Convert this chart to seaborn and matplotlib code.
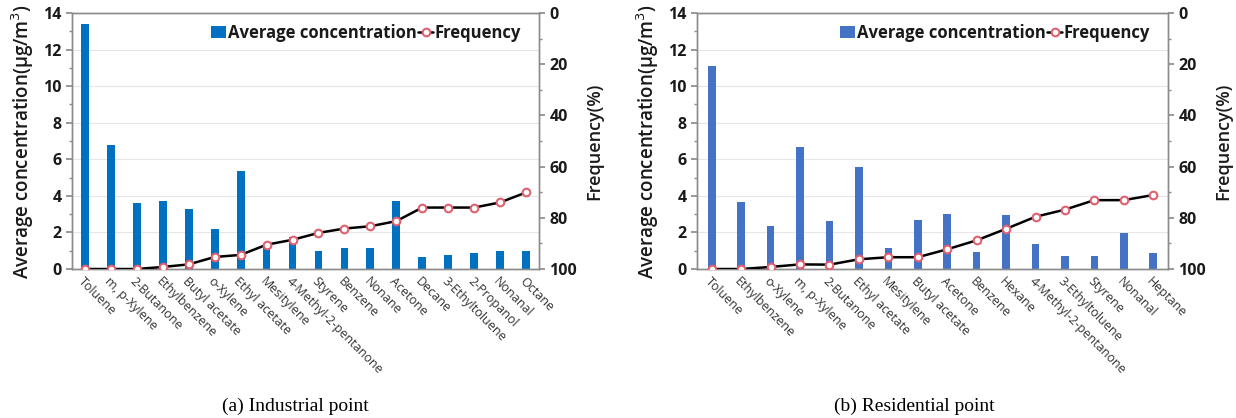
import numpy as np
import pandas as pd
import matplotlib
matplotlib.use("Agg")
import matplotlib.pyplot as plt
import seaborn as sns
from matplotlib.lines import Line2D
from matplotlib.patches import Patch
from matplotlib.ticker import MultipleLocator

# ---------------- data ----------------
ind_categories = ["Toluene", "m, p-Xylene", "2-Butanone", "Ethylbenzene", "Butyl acetate",
                  "o-Xylene", "Ethyl acetate", "Mesitylene", "4-Methyl-2-pentanone", "Styrene",
                  "Benzene", "Nonane", "Acetone", "Decane", "3-Ethyltoluene", "2-Propanol",
                  "Nonanal", "Octane"]
ind_concentration = [13.4, 6.8, 3.6, 3.7, 3.3, 2.2, 5.35, 1.3, 1.75, 1.0,
                     1.15, 1.15, 3.7, 0.65, 0.75, 0.85, 1.0, 1.0]
ind_frequency = [100, 100, 100, 99.2, 98.2, 95.3, 94.5, 90.5, 88.6, 85.9,
                 84.2, 83.3, 81.3, 76.0, 76.0, 76.0, 74.0, 70.1]

res_categories = ["Toluene", "Ethylbenzene", "o-Xylene", "m, p-Xylene", "2-Butanone",
                  "Ethyl acetate", "Mesitylene", "Butyl acetate", "Acetone", "Benzene",
                  "Hexane", "4-Methyl-2-pentanone", "3-Ethyltoluene", "Styrene", "Nonanal",
                  "Heptane"]
res_concentration = [11.1, 3.65, 2.35, 6.65, 2.65, 5.6, 1.15, 2.7, 3.0, 0.95,
                     2.95, 1.35, 0.7, 0.7, 1.95, 0.85]
res_frequency = [100, 100, 99.2, 98.2, 98.3, 96.2, 95.4, 95.4, 92.3, 88.8,
                 84.3, 79.6, 76.8, 73.1, 73.1, 71.1]

panels = [
    ("(a) Industrial point", ind_categories, ind_concentration, ind_frequency, "#0070C0", 0.3),
    ("(b) Residential point", res_categories, res_concentration, res_frequency, "#4472C4", 0.26),
]

# ---------------- style ----------------
sns.set_theme(style="white")
plt.rcParams['font.family'] = ['Open Sans', 'DejaVu Sans']

fig = plt.figure(figsize=(12.36, 4.18), dpi=100)
positions = [
    (72 / 1236, 1 - 269 / 418, (539 - 72) / 1236, (269 - 13) / 418),
    (697 / 1236, 1 - 269 / 418, (1168 - 697) / 1236, (269 - 13) / 418),
]
caption_x = [295 / 1236, 914 / 1236]

spine_col = "#8c8c8c"
grid_col = "#e6e6e6"
text_col = "#1a1a1a"
marker_edge = "#e06070"

for (caption, cats, conc, freq, bar_col, bw), pos, cx in zip(panels, positions, caption_x):
    ax = fig.add_axes(pos)
    df = pd.DataFrame({"Compound": cats, "Concentration": conc, "Frequency": freq})
    sns.barplot(data=df, x="Compound", y="Concentration", color=bar_col,
                width=bw, saturation=1, linewidth=0, ax=ax, zorder=2)
    ax.set_ylim(0, 14)
    ax.set_xlim(-0.5, len(cats) - 0.5)
    ax.yaxis.set_major_locator(MultipleLocator(2))
    ax.yaxis.set_minor_locator(MultipleLocator(1))
    ax.grid(axis="y", which="major", color=grid_col, linewidth=0.8, zorder=0)
    ax.set_axisbelow(True)
    ax.set_xlabel("")
    ax.set_ylabel("Average concentration(μg/m$^3$)", fontsize=13.5, fontweight="semibold",
                  color=text_col, labelpad=5)
    ax.tick_params(axis="y", which="both", direction="out", left=True, colors=spine_col,
                   labelcolor=text_col, labelsize=11.5, length=4)
    ax.tick_params(axis="y", which="minor", length=2.5)
    for lbl in ax.get_yticklabels():
        lbl.set_fontweight("bold")
    ax.tick_params(axis="x", length=0, pad=4)
    ax.set_xticks(range(len(cats)))
    ax.set_xticklabels(cats, rotation=-45, ha="left", rotation_mode="anchor",
                       fontsize=9, color="#333333")
    for s in ax.spines.values():
        s.set_color(spine_col)
        s.set_linewidth(1.0)

    ax2 = ax.twinx()
    sns.lineplot(x=np.arange(len(cats)), y=df["Frequency"], ax=ax2, color="black",
                 linewidth=1.8, marker="o", markersize=5.5, markerfacecolor="white",
                 markeredgecolor=marker_edge, markeredgewidth=1.5, zorder=3)
    ax2.set_ylim(100, 0)
    ax2.yaxis.set_major_locator(MultipleLocator(20))
    ax2.yaxis.set_minor_locator(MultipleLocator(10))
    ax2.set_ylabel("Frequency(%)", fontsize=13, fontweight="semibold", color=text_col,
                   labelpad=6)
    ax2.tick_params(axis="y", which="both", direction="out", right=True, colors=spine_col,
                    labelcolor=text_col, labelsize=11.5, length=4)
    ax2.tick_params(axis="y", which="minor", length=2.5)
    for lbl in ax2.get_yticklabels():
        lbl.set_fontweight("bold")
    ax2.set_xlim(-0.5, len(cats) - 0.5)
    for s in ax2.spines.values():
        s.set_color(spine_col)
        s.set_linewidth(1.0)

    handles = [Patch(facecolor=bar_col, edgecolor="none"),
               Line2D([0], [0], color="black", linewidth=1.8, marker="o", markersize=5.5,
                      markerfacecolor="white", markeredgecolor=marker_edge, markeredgewidth=1.5)]
    leg = ax2.legend(handles, ["Average concentration", "Frequency"], loc="upper right",
                     ncol=2, frameon=False, fontsize=12, handlelength=0.9,
                     handleheight=0.8, handletextpad=0.1, columnspacing=0.1,
                     borderaxespad=0.25, bbox_to_anchor=(0.985, 1.0))
    for t in leg.get_texts():
        t.set_fontweight("bold")
        t.set_color(text_col)

    fig.text(cx, 1 - 398 / 418, caption, ha="center", va="top", fontsize=14,
             family="Liberation Serif", color="black")

fig.savefig("out.png", dpi=100)
